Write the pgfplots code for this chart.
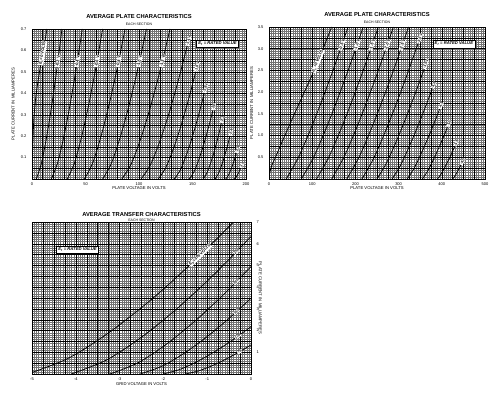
\documentclass[border=0pt]{standalone}
\usepackage{fontspec}
\setmainfont{Liberation Sans}
\usepackage{pgfplots}
\pgfplotsset{compat=1.18}
\pgfplotsset{
 tubegrid/.style={
   scale only axis,
   axis background/.style={fill=white},
   grid=both,
   minor grid style={black!55, line width=0.22pt},
   major grid style={black, line width=0.42pt},
   major tick length=0pt, minor tick length=0pt,
   tick label style={font=\fontsize{4}{4}\selectfont},
   /pgf/number format/assume math mode=true,
   label style={font=\fontsize{4.2}{5}\selectfont},
   axis line style={black, line width=0.5pt},
   extra tick style={grid=major},
   extra x tick labels={}, extra y tick labels={},
   title style={align=center, font=\fontsize{5.8}{6.6}\selectfont, at={(axis description cs:0.5,1)}, anchor=south, inner sep=0pt, yshift=-2.3pt},
 },
 curve/.style={black, line width=0.75pt, smooth, mark=none},
}
\tikzset{
 clabel/.style={sloped, fill=white, inner sep=0.6pt, text=black, font=\fontsize{4}{4.5}\selectfont\bfseries},
 slabel/.style={sloped, fill=white, inner sep=0.4pt, text=black, font=\fontsize{3.5}{4}\selectfont\bfseries, pos=1, anchor=west},
 tlabel/.style={sloped, fill=white, inner sep=0.4pt, text=black, font=\fontsize{3.5}{4}\selectfont\bfseries},
 efbox/.style={draw, line width=0.5pt, fill=white, inner sep=1.8pt, font=\fontsize{4.2}{4.6}\selectfont\bfseries\itshape},
}
\begin{document}
\begin{tikzpicture}
\path[use as bounding box] (0,0) rectangle (500pt,398pt);
% ---------------- Plot 1 ----------------
\begin{axis}[tubegrid, at={(32pt,219pt)}, anchor=south west, width=214pt, height=150pt,
  xmin=0, xmax=200, ymin=0, ymax=0.7,
  xtick={0,50,100,150,200}, ytick={0.1,0.2,0.3,0.4,0.5,0.6,0.7},
  minor xtick={0,2,...,200}, minor ytick={0,0.01,...,0.705},
  extra x ticks={10,20,...,190}, extra y ticks={0.05,0.1,...,0.68},
  yticklabel style={/pgf/number format/fixed, /pgf/number format/precision=1, xshift=-2pt},
  xlabel={PLATE VOLTAGE IN VOLTS}, ylabel={PLATE CURRENT IN MILLIAMPERES},
  x label style={at={(axis description cs:0.5,0)}, anchor=center, yshift=-9pt},
  y label style={at={(axis description cs:-0.088,0.5)}, anchor=center},
  title={\textbf{AVERAGE PLATE CHARACTERISTICS}\\[-0.5pt]{\fontsize{3.5}{4}\selectfont EACH SECTION}},
]
\addplot[curve] coordinates {(0,0) (0.4,0.1) (1,0.2) (2,0.3) (4,0.4) (7,0.5) (10.5,0.6) (14,0.7)} node[clabel, pos=0.72] {E\textsubscript{c}=0 VOLTS};
\addplot[curve] coordinates {(4,0) (8.8,0.0736) (13.6,0.194) (18.4,0.342) (23.2,0.512) (28,0.7)} node[clabel, pos=0.84] {-0.2 V};
\addplot[curve] coordinates {(18,0) (23.8,0.0736) (29.6,0.194) (35.4,0.342) (41.2,0.512) (47,0.7)} node[clabel, pos=0.84] {-0.4 V};
\addplot[curve] coordinates {(33,0) (39.6,0.0736) (46.2,0.194) (52.8,0.342) (59.4,0.512) (66,0.7)} node[clabel, pos=0.84] {-0.6 V};
\addplot[curve] coordinates {(49,0) (56.6,0.0736) (64.2,0.194) (71.8,0.342) (79.4,0.512) (87,0.7)} node[clabel, pos=0.84] {-0.8 V};
\addplot[curve] coordinates {(66,0) (74.2,0.0736) (82.4,0.194) (90.6,0.342) (98.8,0.512) (107,0.7)} node[clabel, pos=0.84] {-1.0 V};
\addplot[curve] coordinates {(84,0) (93,0.0736) (102,0.194) (111,0.342) (120,0.512) (129,0.7)} node[clabel, pos=0.84] {-1.2 V};
\addplot[curve] coordinates {(102,0) (110.6,0.0652) (119.2,0.172) (127.8,0.303) (136.4,0.454) (145,0.62)} node[slabel] {-1.4 V};
\addplot[curve] coordinates {(118,0) (125,0.0526) (132,0.139) (139,0.245) (146,0.366) (153,0.5)} node[slabel] {-1.6 V};
\addplot[curve] coordinates {(133,0) (138.6,0.042) (144.2,0.111) (149.8,0.196) (155.4,0.293) (161,0.4)} node[slabel] {-1.8 V};
\addplot[curve] coordinates {(147,0) (151.4,0.0336) (155.8,0.0887) (160.2,0.157) (164.6,0.234) (169,0.32)} node[slabel] {-2.0};
\addplot[curve] coordinates {(160,0) (163.4,0.0273) (166.8,0.0721) (170.2,0.127) (173.6,0.190) (177,0.26)} node[slabel] {-2.2};
\addplot[curve] coordinates {(171,0) (173.8,0.021) (176.6,0.0554) (179.4,0.0978) (182.2,0.146) (185,0.2)} node[slabel] {-2.4};
\addplot[curve] coordinates {(181,0) (183,0.0126) (185,0.0333) (187,0.0587) (189,0.0878) (191,0.12)} node[slabel] {-2.6};
\addplot[curve] coordinates {(189,0) (190.2,0.0053) (191.4,0.0139) (192.6,0.0245) (193.8,0.0366) (195,0.05)} node[slabel, font=\fontsize{3}{3.5}\selectfont\bfseries] {-2.8};
\node[efbox] at (rel axis cs:0.867,0.9) {E\textsubscript{f} = RATED VALUE};
\end{axis}
% ---------------- Plot 2 ----------------
\begin{axis}[tubegrid, at={(269pt,219pt)}, anchor=south west, width=216pt, height=152pt,
  xmin=0, xmax=500, ymin=0, ymax=3.5,
  xtick={0,100,200,300,400,500}, ytick={0.5,1,1.5,2,2.5,3,3.5},
  minor xtick={0,5,...,500}, minor ytick={0,0.05,...,3.52},
  extra x ticks={25,50,...,475}, extra y ticks={0.25,0.5,...,3.4},
  yticklabel style={/pgf/number format/fixed, /pgf/number format/fixed zerofill, /pgf/number format/precision=1, xshift=-2pt},
  xlabel={PLATE VOLTAGE IN VOLTS}, ylabel={PLATE CURRENT IN MILLIAMPERES},
  x label style={at={(axis description cs:0.5,0)}, anchor=center, yshift=-9pt},
  y label style={at={(axis description cs:-0.08,0.5)}, anchor=center},
  title={\textbf{AVERAGE PLATE CHARACTERISTICS}\\[-0.5pt]{\fontsize{3.5}{4}\selectfont EACH SECTION}},
]
\addplot[curve] coordinates {(0,0) (2,0.15) (6,0.3) (15,0.5) (30,0.85) (50,1.3) (75,1.85) (100,2.4) (125,3.0) (145,3.5)} node[clabel, pos=0.78] {E\textsubscript{c}=0 VOLTS};
\addplot[curve] coordinates {(40,0) (68.6,0.5075) (97.2,1.1655) (125.8,1.896) (154.4,2.678) (183,3.5)} node[clabel, pos=0.9] {-0.5 V};
\addplot[curve] coordinates {(75,0) (103.6,0.5075) (132.2,1.1655) (160.8,1.896) (189.4,2.678) (218,3.5)} node[clabel, pos=0.9] {-1.0 V};
\addplot[curve] coordinates {(110,0) (138.6,0.5075) (167.2,1.1655) (195.8,1.896) (224.4,2.678) (253,3.5)} node[clabel, pos=0.9] {-1.5 V};
\addplot[curve] coordinates {(145,0) (173.6,0.5075) (202.2,1.1655) (230.8,1.896) (259.4,2.678) (288,3.5)} node[clabel, pos=0.9] {-2.0 V};
\addplot[curve] coordinates {(180,0) (208.6,0.5075) (237.2,1.1655) (265.8,1.896) (294.4,2.678) (323,3.5)} node[clabel, pos=0.9] {-2.5 V};
\addplot[curve] coordinates {(215,0) (241,0.452) (267,1.039) (293,1.690) (319,2.387) (345,3.12)} node[slabel] {-3.0 V};
\addplot[curve] coordinates {(250,0) (271.8,0.367) (293.6,0.842) (315.4,1.370) (337.2,1.936) (359,2.53)} node[slabel] {-3.5 V};
\addplot[curve] coordinates {(285,0) (303.6,0.302) (322.2,0.693) (340.8,1.127) (359.4,1.591) (378,2.08)} node[slabel] {-4.0};
\addplot[curve] coordinates {(320,0) (335,0.233) (350,0.536) (365,0.872) (380,1.232) (395,1.61)} node[slabel] {-4.5};
\addplot[curve] coordinates {(355,0) (366.6,0.173) (378.2,0.396) (389.8,0.645) (401.4,0.910) (413,1.19)} node[slabel] {-5.0};
\addplot[curve] coordinates {(390,0) (398,0.109) (406,0.250) (414,0.406) (422,0.574) (430,0.75)} node[slabel] {-5.5};
\addplot[curve] coordinates {(425,0) (428.8,0.046) (432.6,0.107) (436.4,0.173) (440.2,0.245) (444,0.32)} node[slabel] {-6.0};
\node[efbox] at (rel axis cs:0.856,0.888) {E\textsubscript{f} = RATED VALUE};
\end{axis}
% ---------------- Plot 3 ----------------
\begin{axis}[tubegrid, at={(32pt,24pt)}, anchor=south west, width=219pt, height=152pt,
  xmin=-5, xmax=0, ymin=0, ymax=7,
  xtick={-5,-4,-3,-2,-1,0}, ytick={1,2,3,4,5,6,7},
  minor xtick={-5,-4.95,...,0.01}, minor ytick={0,0.1,...,7.01},
  extra x ticks={-4.75,-4.5,...,-0.2}, extra y ticks={0.5,1,...,6.9},
  yticklabel pos=right,
  yticklabel style={xshift=2pt},
  xlabel={GRID VOLTAGE IN VOLTS}, ylabel={PLATE CURRENT IN MILLIAMPERES},
  x label style={at={(axis description cs:0.5,0)}, anchor=center, yshift=-10pt},
  y label style={at={(axis description cs:1.042,0.5)}, anchor=center, rotate=180},
  title={\textbf{AVERAGE TRANSFER CHARACTERISTICS}\\[-1pt]{\fontsize{3.5}{4}\selectfont EACH SECTION}},
  title style={yshift=-3.6pt},
]
\addplot[curve] coordinates {(-5.1,0) (-4.16,0.736) (-3.22,1.940) (-2.28,3.424) (-1.34,5.122) (-0.4,7)} node[clabel, pos=0.8] {E\textsubscript{b}=300 VOLTS};
\addplot[curve] coordinates {(-4.1,0) (-3.28,0.665) (-2.46,1.755) (-1.64,3.096) (-0.82,4.632) (0,6.33)} node[tlabel, pos=0.9] {250};
\addplot[curve] coordinates {(-3.22,0) (-2.576,0.520) (-1.932,1.372) (-1.288,2.421) (-0.644,3.622) (0,4.95)} node[tlabel, pos=0.87] {200};
\addplot[curve] coordinates {(-2.53,0) (-2.024,0.367) (-1.518,0.967) (-1.012,1.707) (-0.506,2.554) (0,3.49)} node[tlabel, pos=0.84] {150};
\addplot[curve] coordinates {(-2,0) (-1.6,0.229) (-1.2,0.604) (-0.8,1.066) (-0.4,1.595) (0,2.18)} node[tlabel, pos=0.82] {100};
\addplot[curve] coordinates {(-1.5,0) (-1.2,0.141) (-0.9,0.371) (-0.6,0.655) (-0.3,0.980) (0,1.34)} node[tlabel, pos=0.8] {75};
\node[efbox] at (rel axis cs:0.208,0.816) {E\textsubscript{f} = RATED VALUE};
\end{axis}
\end{tikzpicture}
\end{document}
